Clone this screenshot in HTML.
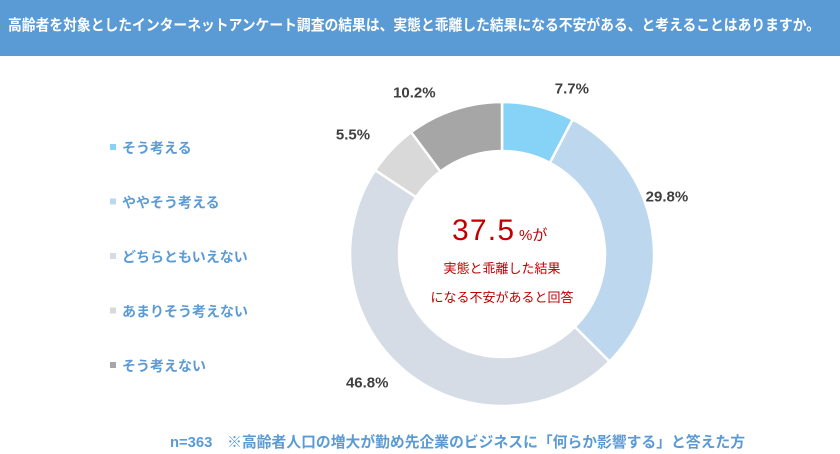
<!DOCTYPE html>
<html><head><meta charset="utf-8"><style>
html,body{margin:0;padding:0;background:#fff;}
svg{display:block;font-family:"Liberation Sans","Noto Sans CJK JP",sans-serif;}
</style></head><body>
<svg width="840" height="454" viewBox="0 0 840 454">
<rect x="0" y="0" width="840" height="56" fill="#5b9bd5"/>
<text x="8" y="30" font-size="15" font-weight="bold" fill="#fff" textLength="812" lengthAdjust="spacingAndGlyphs">高齢者を対象としたインターネットアンケート調査の結果は、実態と乖離した結果になる不安がある、と考えることはありますか。</text>
<g id="slices"></g>
<g id="labels"></g>
<g id="legend"></g>
<text x="452" y="240" font-size="30" fill="#c00000" textLength="62" lengthAdjust="spacing">37.5</text>
<text x="519" y="240" font-size="15" fill="#c00000">%が</text>
<text x="502" y="273" font-size="13" fill="#c00000" text-anchor="middle">実態と乖離した結果</text>
<text x="502" y="302" font-size="13" fill="#c00000" text-anchor="middle">になる不安があると回答</text>
<text x="170" y="447" font-size="15" font-weight="bold" fill="#5b9bd5" textLength="575" lengthAdjust="spacingAndGlyphs">n=363　※高齢者人口の増大が勤め先企業のビジネスに「何らか影響する」と答えた方</text>
</svg>
<script>
const categories=["そう考える","ややそう考える","どちらともいえない","あまりそう考えない","そう考えない"];
const values=[7.7,29.8,46.8,5.5,10.2];
const colors=["#87d3f8","#bdd7ee","#d6dce5","#d9d9d9","#a6a6a6"];
const labelNudgeX=[26,-16,-19,-16,-30];
const labelNudgeY=[12,-30,-13,6,12];
const NS="http://www.w3.org/2000/svg";
const cx=502,cy=254,R=152,r=103,LR=183;
const total=values.reduce((a,b)=>a+b,0);
const sl=document.getElementById('slices'),lb=document.getElementById('labels'),lg=document.getElementById('legend');
function pt(a,rad){return [cx+rad*Math.sin(a),cy-rad*Math.cos(a)];}
let acc=0;
values.forEach((v,i)=>{
  const a0=acc/total*2*Math.PI; acc+=v; const a1=acc/total*2*Math.PI;
  const large=(a1-a0)>Math.PI?1:0;
  const [x0,y0]=pt(a0,R),[x1,y1]=pt(a1,R),[x2,y2]=pt(a1,r),[x3,y3]=pt(a0,r);
  const p=document.createElementNS(NS,'path');
  p.setAttribute('d',`M${x0},${y0}A${R},${R} 0 ${large} 1 ${x1},${y1}L${x2},${y2}A${r},${r} 0 ${large} 0 ${x3},${y3}Z`);
  p.setAttribute('fill',colors[i]);p.setAttribute('stroke','#fff');p.setAttribute('stroke-width','2.5');
  
  
  sl.appendChild(p);
  const am=(a0+a1)/2;const [lx,ly]=pt(am,LR);
  const t=document.createElementNS(NS,'text');
  t.setAttribute('x',lx+labelNudgeX[i]);t.setAttribute('y',ly+labelNudgeY[i]+5);t.setAttribute('text-anchor','middle');
  t.setAttribute('font-size','15');t.setAttribute('font-weight','bold');t.setAttribute('fill','#404040');
  t.textContent=v.toFixed(1)+'%';
  
  
  lb.appendChild(t);
});
categories.forEach((c,i)=>{
  const y=148+i*54.5;
  const s=document.createElementNS(NS,'rect');
  s.setAttribute('x',110);s.setAttribute('y',y-4);s.setAttribute('width',6);s.setAttribute('height',6);s.setAttribute('fill',colors[i]);
  
  
  lg.appendChild(s);
  const t=document.createElementNS(NS,'text');
  t.setAttribute('x',122);t.setAttribute('y',y+5);t.setAttribute('font-size','14');t.setAttribute('font-weight','bold');t.setAttribute('fill','#5b9bd5');
  t.textContent=c;
  
  
  lg.appendChild(t);
});
</script>
</body></html>
